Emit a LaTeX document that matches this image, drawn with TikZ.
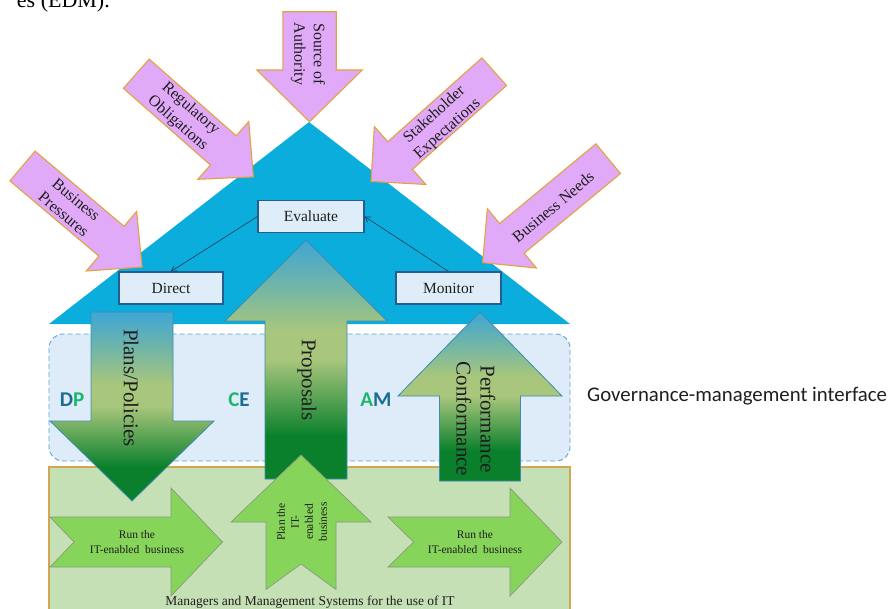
\documentclass[tikz,border=0pt]{standalone}
\usepackage{fontspec}
\setmainfont{Liberation Serif}
\newfontfamily\calib{Carlito}
\usetikzlibrary{arrows.meta}
\definecolor{roofblue}{RGB}{10,173,220}
\definecolor{pinkfill}{RGB}{225,170,248}
\definecolor{pinkedge}{RGB}{228,162,62}
\definecolor{boxfill}{RGB}{222,237,248}
\definecolor{boxedge}{RGB}{38,92,145}
\definecolor{ifacefill}{RGB}{221,236,248}
\definecolor{ifaceedge}{RGB}{95,163,205}
\definecolor{mgmtfill}{RGB}{198,224,182}
\definecolor{mgmtedge}{RGB}{208,168,82}
\definecolor{lgreen}{RGB}{134,212,90}
\definecolor{lgreenedge}{RGB}{140,152,130}
\definecolor{gradtop}{RGB}{62,166,214}
\definecolor{gradteal}{RGB}{110,180,170}
\definecolor{gradmid}{RGB}{168,198,124}
\definecolor{gradbot}{RGB}{10,128,44}
\definecolor{gradedge}{RGB}{60,140,175}
\definecolor{letblue}{RGB}{28,108,148}
\definecolor{letgreen}{RGB}{28,182,110}
\definecolor{connc}{RGB}{30,55,85}
\definecolor{txt}{RGB}{30,30,30}
\pgfdeclareverticalshading{arrowshade}{100bp}{color(0bp)=(gradbot); color(25bp)=(gradbot); color(34bp)=(gradbot); color(50bp)=(gradmid); color(56bp)=(gradmid); color(66bp)=(gradteal); color(75bp)=(gradtop); color(100bp)=(gradtop)}
\begin{document}
\begin{tikzpicture}[x=1pt,y=-1pt,
  pinkarrow/.style={draw=pinkedge, fill=pinkfill, line width=1.1pt},
  pinktext/.style={align=center, text=txt, font=\fontsize{16}{19.5}\selectfont, inner sep=0pt},
  gradarrow/.style={draw=gradedge, line width=0.8pt, shading=arrowshade, shading angle=0},
  gradtext/.style={align=center, text=txt, font=\fontsize{21}{24}\selectfont, inner sep=0pt, rotate=-90},
  edmbox/.style={draw=boxedge, fill=boxfill, line width=1.1pt, minimum height=32pt, inner sep=0pt, font=\fontsize{15.5}{18}\selectfont, text=txt},
  conn/.style={draw=connc, line width=0.6pt, -{Straight Barb[length=5pt,width=6pt]}},
  greenarrow/.style={draw=lgreenedge, fill=lgreen, line width=0.7pt},
  greentext/.style={align=center, text=txt, font=\fontsize{11.5}{15}\selectfont, inner sep=0pt},
  lettertext/.style={font=\calib\bfseries\fontsize{21}{24}\selectfont, inner sep=0pt}
]
\useasboundingbox (0,0) rectangle (890,608);

% header fragment
\node[anchor=base east, font=\fontsize{22}{26}\selectfont, inner sep=0pt] (hdr) at (110,7) {es (EDM).};

% management area
\draw[draw=mgmtedge, fill=mgmtfill, line width=1.2pt] (49,467) rectangle (570,620);
% interface area
\draw[draw=ifaceedge, fill=ifacefill, line width=0.9pt, dash pattern=on 5pt off 3pt, rounded corners=14pt] (49,334) rectangle (570,461);
% roof
\fill[roofblue] (309,122) -- (570,324) -- (49,324) -- cycle;

% pink arrows
\begin{scope}[shift={(22.5,166)}, rotate=-40.2]
  \draw[pinkarrow] (0,-19.5) -- (116.5,-19.5) -- (116.5,-39) -- (156.5,0) -- (116.5,39) -- (116.5,19.5) -- (0,19.5) -- cycle;
\end{scope}
\begin{scope}[shift={(136.3,73.7)}, rotate=-41.4]
  \draw[pinkarrow] (0,-19.5) -- (116,-19.5) -- (116,-38.5) -- (156,0) -- (116,38.5) -- (116,19.5) -- (0,19.5) -- cycle;
\end{scope}
\begin{scope}[shift={(309.5,11.7)}, rotate=-90]
  \draw[pinkarrow] (0,-26.7) -- (58.3,-26.7) -- (58.3,-52.7) -- (110,0) -- (58.3,52.7) -- (58.3,26.7) -- (0,26.7) -- cycle;
\end{scope}
\begin{scope}[shift={(494.2,71.7)}, rotate=-138.3]
  \draw[pinkarrow] (0,-18.5) -- (126,-18.5) -- (126,-38.75) -- (165,0) -- (126,38.75) -- (126,18.5) -- (0,18.5) -- cycle;
\end{scope}
\begin{scope}[shift={(608.2,158.7)}, rotate=-140.4]
  \draw[pinkarrow] (0,-19.25) -- (125,-19.25) -- (125,-38.5) -- (163,0) -- (125,38.5) -- (125,19.25) -- (0,19.25) -- cycle;
\end{scope}
\node[pinktext, rotate=-40.2] (bp) at (70,207) {Business\\Pressures};
\node[pinktext, rotate=-41.4] (ro) at (184,116) {Regulatory\\Obligations};
\node[pinktext, rotate=-90] (sa) at (308,54) {Source of\\Authority};
\node[pinktext, rotate=41.7] (se) at (441,122) {Stakeholder\\Expectations};
\node[pinktext, rotate=40] (bn) at (553,207) {Business Needs};

% big gradient arrows
\draw[gradarrow] (91,312) -- (173,312) -- (173,421) -- (214,421) -- (132,501) -- (50,421) -- (91,421) -- cycle;
\draw[gradarrow] (306,240) -- (387,321) -- (347,321) -- (347,479) -- (265,479) -- (265,321) -- (225,321) -- cycle;
\draw[gradarrow] (480,312) -- (562,396) -- (520.5,396) -- (520.5,481) -- (439.5,481) -- (439.5,396) -- (398,396) -- cycle;
\node[gradtext] (pp) at (131,388) {Plans/Policies};
\node[gradtext] (pr) at (307,380) {Proposals};
\node[gradtext] (pc) at (476,419) {Performance\\Conformance};

% DP CE AM
\node[lettertext] (dp) at (72,400) {\textcolor{letblue}{D}\textcolor{letgreen}{P}};
\node[lettertext] (ce) at (239,400) {\textcolor{letgreen}{C}\textcolor{letblue}{E}};
\node[lettertext] (am) at (376,400) {\textcolor{letgreen}{A}\textcolor{letblue}{M}};

% EDM boxes
\node[edmbox, minimum width=106pt] (eval) at (311,216.5) {Evaluate};
\node[edmbox, minimum width=104pt] (direct) at (171,288) {Direct};
\node[edmbox, minimum width=105pt] (monitor) at (448.5,288) {Monitor};
\draw[conn] (eval.west) -- (direct.north);
\draw[conn] (monitor.north) -- (eval.east);

% light green arrows
\draw[greenarrow] (50,517) -- (171,517) -- (171,488) -- (222.5,542) -- (171,596) -- (171,567) -- (50,567) -- (74,542) -- cycle;
\draw[greenarrow] (388,517) -- (510,517) -- (510,488) -- (562,542) -- (510,596) -- (510,567) -- (388,567) -- (413.6,542) -- cycle;
\draw[greenarrow] (301,455) -- (371,522) -- (336,522) -- (336,589.5) -- (301,564) -- (266,589.5) -- (266,522) -- (231,522) -- cycle;
\node[greentext] (run1) at (137,542) {Run the\\IT-enabled~ business};
\node[greentext] (run2) at (475,542) {Run the\\IT-enabled~ business};
\node[greentext, rotate=90, font=\fontsize{11.5}{14}\selectfont] (plan) at (302,522) {Plan the\\IT-\\enabled\\business};

\node[font=\fontsize{13.5}{16}\selectfont, text=txt, inner sep=0pt] (mgmt) at (310,602) {Managers and Management Systems for the use of IT};

\node[anchor=west, font=\calib\fontsize{20.8}{23}\selectfont, text=txt, inner sep=0pt] (gmi) at (587,396) {Governance-management interface};
\end{tikzpicture}
\end{document}
